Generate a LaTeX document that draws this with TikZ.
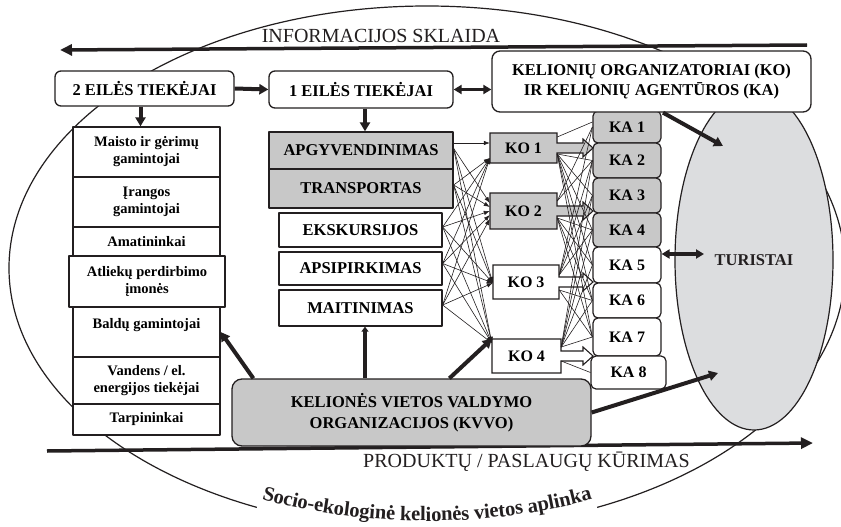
\documentclass[tikz,border=0pt]{standalone}
\usepackage{fontspec}
\setmainfont{Liberation Serif}
\usetikzlibrary{shapes.geometric,arrows.meta,decorations.text,calc}

\definecolor{ln}{HTML}{231F20}
\definecolor{boxgray}{HTML}{C8C8C8}
\definecolor{tgray}{HTML}{DCDDDF}

\newcommand\fmain{\bfseries\fontsize{16.5}{20}\selectfont}
\newcommand\fleft{\bfseries\fontsize{14.5}{17}\selectfont}
\newcommand\fka{\bfseries\fontsize{16}{19}\selectfont}
\newcommand\fplain{\fontsize{20}{24}\selectfont}
\newcommand\fsocio{\bfseries\fontsize{20.5}{24}\selectfont}

% tour operator box with a right-arrow callout
% #1 centre, #2 half width, #3 half height, #4 fill, #5 shaft length
\newcommand\kobox[5]{%
  \path[draw=ln,fill=#4,line width=1.1pt,line join=miter]
    ([shift={(-#2pt,#3pt)}]#1) -- ([shift={(#2pt,#3pt)}]#1)
    -- ([shift={(#2pt,5pt)}]#1) -- ([shift={(#2pt+#5pt,5pt)}]#1)
    -- ([shift={(#2pt+#5pt,9pt)}]#1) -- ([shift={(#2pt+#5pt+10pt,0pt)}]#1)
    -- ([shift={(#2pt+#5pt,-9pt)}]#1) -- ([shift={(#2pt+#5pt,-5pt)}]#1)
    -- ([shift={(#2pt,-5pt)}]#1) -- ([shift={(#2pt,-#3pt)}]#1)
    -- ([shift={(-#2pt,-#3pt)}]#1) -- cycle;}

\tikzset{
  rbox/.style={draw=ln, line width=1.3pt, fill=white, rounded corners=6pt,
    inner sep=0pt, align=center, font=\fmain},
  sbox/.style={draw=ln, line width=1.3pt, fill=white, inner sep=0pt,
    align=center, font=\fmain},
  gbox/.style={sbox, fill=boxgray},
  lbox/.style={draw=ln, line width=1.3pt, fill=white, inner sep=0pt,
    align=center, font=\fleft, minimum width=147pt},
  kab/.style={draw=ln, line width=1.2pt, rounded corners=5pt, inner sep=0pt,
    font=\fka, minimum width=68pt},
  kotxt/.style={inner sep=0pt, font=\fka},
  thinln/.style={ln, line width=0.6pt},
  thinarr/.style={thinln, -{Latex[length=6pt,width=4.5pt]}},
  thickarr/.style={ln, line width=4pt, -{Triangle[length=9pt,width=10pt]}},
  smallarr/.style={ln, line width=3.5pt, -{Triangle[length=5pt,width=7pt]}},
  dblarr/.style={ln, line width=3.2pt,
    {Triangle[length=8pt,width=9pt]}-{Triangle[length=8pt,width=9pt]}},
  flowarr/.style={ln, line width=3.5pt, -{Triangle[length=12pt,width=11pt]}},
}

\begin{document}
\begin{tikzpicture}[x=1pt, y=-1pt, line join=round]
\useasboundingbox (0,0) rectangle (841,527);
\fill[white] (0,0) rectangle (841,527);

% surrounding socio-ecological environment
\draw[ln, line width=1.2pt] (427,268) ellipse [x radius=418pt, y radius=262pt];
\draw[white, line width=10pt] ([shift={(246:418pt and 262pt)}]427,268)
  arc[start angle=246, end angle=294, x radius=418pt, y radius=262pt];
\path[decorate, decoration={text along path, text align=center, raise=9pt,
    text={|\fsocio\color{ln}|Socio-ekologinė kelionės vietos aplinka}}]
  ([shift={(240:418pt and 262pt)}]427,268)
  arc[start angle=240, end angle=300, x radius=418pt, y radius=262pt];

% information and product flows
\node[font=\fplain, anchor=base, text=ln] (info) at (381,43) {INFORMACIJOS SKLAIDA};
\coordinate (infoR) at (807,45);
\coordinate (infoL) at (60,50);
\draw[flowarr] (infoR) -- (infoL);
\node[font=\fplain, anchor=base, text=ln] (prod) at (526.5,467) {PRODUKTŲ / PASLAUGŲ KŪRIMAS};
\coordinate (prodL) at (47,451);
\coordinate (prodR) at (813,443);
\draw[flowarr] (prodL) -- (prodR);

% tourists
\node[ellipse, draw=ln, line width=1.2pt, fill=tgray, minimum width=158pt,
  minimum height=340pt, inner sep=0pt, font=\fmain, text=ln] (tur) at (754,260) {TURISTAI};

% travel agencies
\node[kab, fill=boxgray, minimum height=32pt] (ka1) at (627,127) {KA 1};
\node[kab, fill=boxgray, minimum height=35pt] (ka2) at (627,160.5) {KA 2};
\node[kab, fill=boxgray, minimum height=35pt] (ka3) at (627,195.5) {KA 3};
\node[kab, fill=boxgray, minimum height=34pt] (ka4) at (627,230) {KA 4};
\node[kab, fill=white, minimum height=36pt] (ka5) at (627,265) {KA 5};
\node[kab, fill=white, minimum height=35pt] (ka6) at (627,300.5) {KA 6};
\node[kab, fill=white, minimum height=38pt] (ka7) at (627,337) {KA 7};
\node[kab, fill=white, minimum width=75pt, minimum height=33pt] (ka8) at (628.5,372.5) {KA 8};

% header boxes
\node[rbox, rounded corners=8pt, minimum width=319pt, minimum height=61pt] (koka)
  at (651.5,81.5) {KELIONIŲ ORGANIZATORIAI (KO)\\IR KELIONIŲ AGENTŪROS (KA)};
\node[rbox, minimum width=179pt, minimum height=35pt] (e2) at (144.5,88.5) {2 EILĖS TIEKĖJAI};
\node[rbox, minimum width=184pt, minimum height=37pt] (e1) at (361,89.5) {1 EILĖS TIEKĖJAI};

% second tier suppliers
\node[lbox, minimum height=50pt] (c1) at (146.5,152) {Maisto ir gėrimų\\gamintojai};
\node[lbox, minimum height=50pt] (c2) at (146.5,202) {Įrangos\\gamintojai};
\node[lbox, minimum height=30pt] (c3) at (146.5,242) {Amatininkai};
\node[lbox, minimum width=156pt, minimum height=51pt] (c4) at (147,281.5) {Atliekų perdirbimo\\įmonės};
\node[lbox, minimum height=50pt] (c5) at (146.5,332) {Baldų gamintojai\\\mbox{}};
\node[lbox, minimum height=47pt] (c6) at (146.5,380.5) {Vandens / el.\\energijos tiekėjai};
\node[lbox, minimum height=31pt] (c7) at (146.5,419.5) {Tarpininkai};

% first tier suppliers
\node[gbox, minimum width=184pt, minimum height=37pt] (apg) at (361,150.5) {APGYVENDINIMAS};
\node[gbox, minimum width=184pt, minimum height=39pt] (tra) at (361,188.5) {TRANSPORTAS};
\node[sbox, minimum width=163pt, minimum height=34pt] (eks) at (360.5,230) {EKSKURSIJOS};
\node[sbox, minimum width=163pt, minimum height=33pt] (aps) at (360.5,268.5) {APSIPIRKIMAS};
\node[sbox, minimum width=163pt, minimum height=36pt] (mai) at (360.5,308) {MAITINIMAS};

% tour operators
\coordinate (k1) at (523.5,148);
\coordinate (k2) at (523.5,211);
\coordinate (k3) at (526,282);
\coordinate (k4) at (526.5,356);
\kobox{k1}{33.5}{15}{boxgray}{26}
\kobox{k2}{33.5}{18}{boxgray}{26}
\kobox{k3}{33}{17}{white}{24}
\kobox{k4}{34.5}{17}{white}{22}
\node[kotxt, minimum width=67pt, minimum height=30pt] (ko1) at (k1) {KO 1};
\node[kotxt, minimum width=67pt, minimum height=36pt] (ko2) at (k2) {KO 2};
\node[kotxt, minimum width=66pt, minimum height=34pt] (ko3) at (k3) {KO 3};
\node[kotxt, minimum width=69pt, minimum height=34pt] (ko4) at (k4) {KO 4};

% suppliers to tour operators
\draw[thinarr] ([yshift=7.5pt]apg.east) -- ([yshift=5pt]ko1.west);
\foreach \s/\sy in {tra/3.5, eks/3, aps/5, mai/3}
  \draw[thinarr] ([yshift=\sy pt]\s.east) -- ([yshift=-10pt]ko1.west);
\foreach \s/\sy/\ty in {apg/2/8, tra/3.5/4, eks/3/0, aps/5/-4, mai/3/-8} {
  \draw[thinarr] ([yshift=\sy pt]\s.east) -- ([yshift=\ty pt]ko2.west);
  \draw[thinarr] ([yshift=\sy pt]\s.east) -- ([yshift=-1pt]ko3.west);
  \draw[thinarr] ([yshift=\sy pt]\s.east) -- ([yshift=13pt]ko4.west);
}

% tour operators to travel agencies
\draw[thinln] ([yshift=11pt]ko1.east) -- ([yshift=5pt]ka1.west);
\foreach \t in {ka2,ka3,ka4,ka5,ka6,ka7}
  \draw[thinln] ([yshift=-6pt]ko1.east) -- (\t.west);
\foreach \t in {ka1,ka2}
  \draw[thinln] ([yshift=10pt]ko2.east) -- (\t.west);
\foreach \t in {ka4,ka5,ka6,ka7}
  \draw[thinln] ([yshift=-7pt]ko2.east) -- (\t.west);
\foreach \t in {ka1,ka2,ka3,ka4}
  \draw[thinln] ([yshift=7pt]ko3.east) -- (\t.west);
\foreach \t in {ka6,ka7}
  \draw[thinln] ([yshift=-8pt]ko3.east) -- (\t.west);
\foreach \t in {ka2,ka3,ka4,ka5,ka6,ka7}
  \draw[thinln] ([yshift=9pt]ko4.east) -- (\t.west);
\draw[thinln] ([yshift=-5pt]ko4.east) -- (ka8.west);

% destination management organisations
\node[rbox, fill=boxgray, rounded corners=10pt, minimum width=359pt, minimum height=67pt,
  font=\bfseries\fontsize{16.5}{21}\selectfont] (kvvo) at (411.5,412.5)
  {KELIONĖS VIETOS VALDYMO\\ORGANIZACIJOS (KVVO)};

% main relations
\draw[thickarr] (e2.east) -- (e1.west);
\draw[dblarr] (e1.east) -- (e1.east -| koka.west);
\draw[thickarr] ([xshift=4pt]e1.south) -- ([xshift=4pt]apg.north);
\draw[thickarr] ([xshift=-4pt]e2.south) -- ([xshift=-6pt]c1.north);
\draw[smallarr] ($(mai.south |- kvvo.north)+(4.5pt,0)$) -- ($(mai.south)+(4.5pt,0)$);
\draw[thickarr] ([xshift=22pt]kvvo.north west) -- (c5.east);
\draw[thickarr] ([xshift=218pt]kvvo.north west) -- (ko4.north west);
\draw[thickarr] (kvvo.east) -- ([shift={(-36pt,-113pt)}]tur.center);
\draw[thickarr] ([xshift=11.5pt]koka.south) -- ([shift={(-31pt,114pt)}]tur.center);
\draw[dblarr] ([yshift=11pt]ka5.east) -- ([shift={(-50pt,6pt)}]tur.center);
\end{tikzpicture}
\end{document}
